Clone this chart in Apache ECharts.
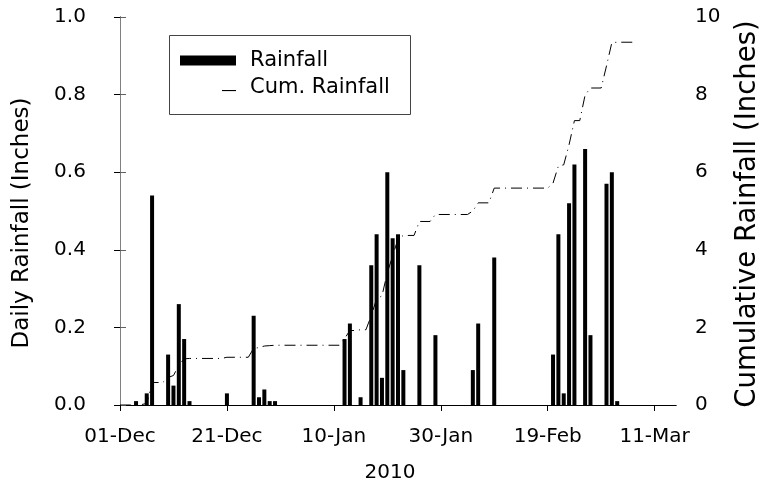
<!DOCTYPE html>
<html>
<head>
<meta charset="utf-8">
<script src="https://cdn.jsdelivr.net/npm/echarts@6/dist/echarts.min.js"></script>
<style>
  html, body { margin: 0; padding: 0; background: #fff; }
  #chart { width: 770px; height: 491px; }
</style>
</head>
<body>
<div id="chart"></div>
<script>
// days counted from 01-Dec-2009
const xTickDays = [0, 20, 40, 60, 80, 100];
const xTickLabels = ['01-Dec', '21-Dec', '10-Jan', '30-Jan', '19-Feb', '11-Mar'];

// daily rainfall (inches)
const rainDays = [3, 5, 6, 9, 10, 11, 12, 13, 20, 25, 26, 27, 28, 29,
  42, 43, 45, 47, 48, 49, 50, 51, 52, 53, 56, 59, 66, 67, 70,
  81, 82, 83, 84, 85, 87, 88, 91, 92, 93];
const rainValues = [0.01, 0.03, 0.54, 0.13, 0.05, 0.26, 0.17, 0.01, 0.03, 0.23, 0.02, 0.04, 0.01, 0.01,
  0.17, 0.21, 0.02, 0.36, 0.44, 0.07, 0.60, 0.43, 0.44, 0.09, 0.36, 0.18, 0.09, 0.21, 0.38,
  0.13, 0.44, 0.03, 0.52, 0.62, 0.66, 0.18, 0.57, 0.60, 0.01];

// cumulative rainfall (inches), read at each bend of the line
const cumDays = [0, 2, 3, 4, 5, 6, 8, 9, 10, 11, 12, 13, 19, 20, 24, 25, 26, 27, 28, 29,
  41, 42, 43, 44, 45, 46, 47, 48, 49, 50, 51, 52, 53, 55, 56, 58, 59, 65, 66, 67, 69, 70,
  80, 81, 82, 83, 84, 85, 86, 87, 88, 90, 91, 92, 93, 96];
const cumValues = [0, 0, 0.01, 0.01, 0.04, 0.58, 0.58, 0.71, 0.76, 1.02, 1.19, 1.20, 1.20, 1.23, 1.23, 1.46, 1.48, 1.52, 1.53, 1.54,
  1.54, 1.71, 1.92, 1.92, 1.94, 1.94, 2.30, 2.74, 2.81, 3.41, 3.84, 4.28, 4.37, 4.37, 4.73, 4.73, 4.91, 4.91, 5.00, 5.21, 5.21, 5.59,
  5.59, 5.72, 6.16, 6.19, 6.71, 7.33, 7.33, 7.99, 8.17, 8.17, 8.74, 9.34, 9.35, 9.35];

const FONT = 'DejaVu Sans';

const chart = echarts.init(document.getElementById('chart'));

const option = {
  backgroundColor: '#fff',
  animation: false,
  grid: { left: 120, right: 94, top: 17, bottom: 86 },
  xAxis: [
    {
      type: 'value',
      min: 0,
      max: 104,
      interval: 20,
      name: '2010',
      nameLocation: 'middle',
      nameGap: 58,
      nameTextStyle: { color: '#000', fontSize: 20, fontFamily: FONT, padding: [0, 16, 0, 0] },
      axisLine: { show: true, lineStyle: { color: '#000', width: 1 } },
      axisTick: { show: true, length: 6, inside: false, customValues: xTickDays, lineStyle: { color: '#000' } },
      axisLabel: {
        color: '#000', fontSize: 20, fontFamily: FONT, margin: 22,
        customValues: xTickDays,
        formatter: (v) => xTickLabels[xTickDays.indexOf(v)] || ''
      },
      splitLine: { show: false }
    },
    {
      type: 'value',
      position: 'top',
      min: 0,
      max: 104,
      axisLine: { show: true, lineStyle: { color: '#000', width: 1 } },
      axisTick: { show: false },
      axisLabel: { show: false },
      splitLine: { show: false }
    }
  ],
  yAxis: [
    {
      type: 'value',
      min: 0,
      max: 1,
      interval: 0.2,
      name: 'Daily Rainfall (Inches)',
      nameLocation: 'middle',
      nameGap: 86,
      nameTextStyle: { color: '#000', fontSize: 23, fontFamily: FONT, padding: [0, 24, 0, 0] },
      axisLine: { show: true, lineStyle: { color: '#000', width: 1 } },
      axisTick: { show: true, length: 6, lineStyle: { color: '#000' } },
      axisLabel: {
        color: '#000', fontSize: 20, fontFamily: FONT, margin: 50, align: 'center',
        formatter: (v) => v.toFixed(1)
      },
      splitLine: { show: false }
    },
    {
      type: 'value',
      position: 'right',
      min: 0,
      max: 10,
      interval: 2,
      name: 'Cumulative Rainfall (Inches)',
      nameLocation: 'middle',
      nameGap: 58,
      nameRotate: 90,
      nameTextStyle: { color: '#000', fontSize: 27.5, fontFamily: FONT, padding: [0, 6, 0, 0] },
      axisLine: { show: true, lineStyle: { color: '#808080', width: 1 } },
      axisTick: { show: true, length: 6, lineStyle: { color: '#606060' } },
      axisLabel: { color: '#000', fontSize: 20, fontFamily: FONT, margin: 19 },
      splitLine: { show: false }
    }
  ],
  legend: [
    {
      left: 180,
      top: 50,
      padding: 0,
      itemWidth: 65,
      itemHeight: 10,
      textStyle: { color: '#000', fontSize: 21, fontFamily: FONT },
      data: [{ name: 'Rainfall', icon: 'path://M0,0 L56,0 L56,10 L0,10 Z M65,10' }]
    },
    {
      left: 180,
      top: 77,
      padding: 0,
      itemWidth: 65,
      itemHeight: 10,
      textStyle: { color: '#000', fontSize: 21, fontFamily: FONT },
      data: [{ name: 'Cum. Rainfall', icon: 'path://M0,0 M65,10 M42,7.5 L56,7.5 L56,8.6 L42,8.6 Z' }]
    }
  ],
  graphic: [
    {
      type: 'rect',
      shape: { x: 169.5, y: 35.5, width: 241, height: 79 },
      style: { fill: 'none', stroke: '#444', lineWidth: 1 },
      z: 1
    }
  ],
  series: [
    {
      name: 'Rainfall',
      type: 'bar',
      xAxisIndex: 0,
      yAxisIndex: 0,
      barWidth: 4,
      itemStyle: { color: '#000' },
      data: rainDays.map((d, i) => [d, rainValues[i]])
    },
    {
      name: 'Cum. Rainfall',
      type: 'line',
      xAxisIndex: 0,
      yAxisIndex: 1,
      showSymbol: false,
      symbol: 'none',
      itemStyle: { color: '#000' },
      lineStyle: { color: '#000', width: 1, type: [11, 5, 1, 5] },
      data: cumDays.map((d, i) => [d, cumValues[i]]),
      z: 3
    }
  ]
};

chart.setOption(option);
</script>
</body>
</html>
